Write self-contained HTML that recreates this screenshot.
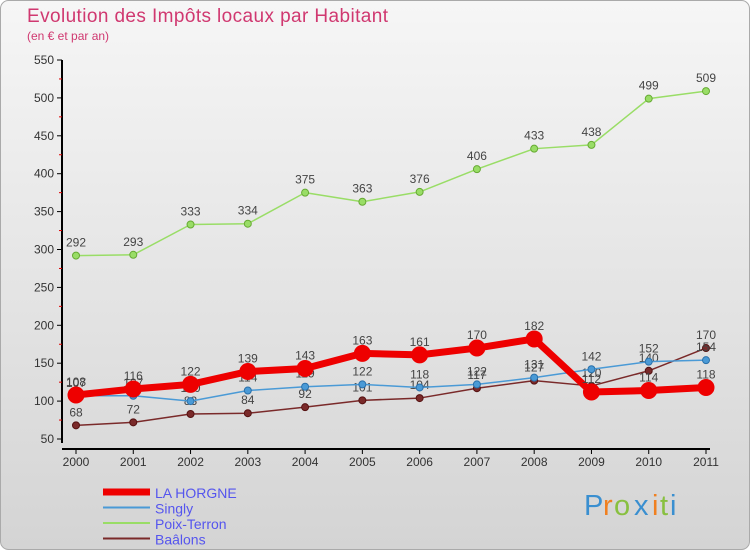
<!DOCTYPE html>
<html><head><meta charset="utf-8"><style>
body{margin:0;width:750px;height:550px;overflow:hidden;font-family:"Liberation Sans",sans-serif}
</style></head><body>
<svg id="c" width="750" height="550" xmlns="http://www.w3.org/2000/svg">
<defs><linearGradient id="bg" x1="0" y1="0" x2="0" y2="1"><stop offset="0" stop-color="#f6f6f6"/><stop offset="1" stop-color="#d4d4d4"/></linearGradient></defs>
<rect x="0.5" y="0.5" width="749" height="549" rx="8" fill="url(#bg)" stroke="#aaa"/>
<text x="27" y="22" font-size="19" textLength="361" fill="#d03870">Evolution des Impôts locaux par Habitant</text>
<text x="27" y="40" font-size="12" fill="#d03870">(en € et par an)</text>
<g id="axes"></g><g id="series"></g><g id="legend"></g>
<g font-size="29">
<text x="584" y="515" fill="#3a8fd0">P</text><text x="603" y="515" fill="#f08020">r</text><text x="614" y="515" fill="#88c040">o</text><text x="634" y="515" fill="#3a8fd0">x</text><text x="652" y="515" fill="#f08020">i</text><text x="660" y="515" fill="#88c040">t</text><text x="670" y="515" fill="#3a8fd0">i</text>
</g>
</svg>
<script>
const years=[2000,2001,2002,2003,2004,2005,2006,2007,2008,2009,2010,2011];
const yTicks=[50,100,150,200,250,300,350,400,450,500,550];
const horgne=[108,116,122,139,143,163,161,170,182,112,114,118];
const singly=[107,107,100,114,119,122,118,122,131,142,152,154];
const poix=[292,293,333,334,375,363,376,406,433,438,499,509];
const baalons=[68,72,83,84,92,101,104,117,127,120,140,170];
const NS="http://www.w3.org/2000/svg";
function X(i){return 76+i*(630/(years.length-1));}
function Y(v){return 439-(v-50)*379/500;}
function mk(t,a,p){const e=document.createElementNS(NS,t);for(const k in a)e.setAttribute(k,a[k]);p.appendChild(e);return e;}
const ax=document.getElementById('axes');
const yl=mk('line',{x1:62,y1:Y(550),x2:62,y2:443,stroke:'#000','stroke-width':2},ax);


const xl=mk('line',{x1:62,y1:449,x2:710,y2:449,stroke:'#000','stroke-width':2},ax);


yTicks.forEach(v=>{
 mk('line',{x1:57,y1:Y(v),x2:62,y2:Y(v),stroke:'#000'},ax);
 if(v<550) mk('line',{x1:59,y1:Y(v+25),x2:62,y2:Y(v+25),stroke:'#d00'},ax);
 const t=mk('text',{x:54,y:Y(v)+4,'text-anchor':'end','font-size':12,fill:'#333'},ax);t.textContent=v;
 
 
});
years.forEach((y,i)=>{
 mk('line',{x1:X(i),y1:449,x2:X(i),y2:454,stroke:'#000'},ax);
 const t=mk('text',{x:X(i),y:466,'text-anchor':'middle','font-size':12,fill:'#333'},ax);t.textContent=y;
 
 
});
const sg=document.getElementById('series');
function draw(name,data,color,w,r,stroke){
 const g=mk('g',{},sg);
 
 
 mk('polyline',{points:data.map((v,i)=>X(i)+','+Y(v)).join(' '),fill:'none',stroke:color,'stroke-width':w,'stroke-linejoin':'round'},g);
 data.forEach((v,i)=>{
  const c=mk('circle',{cx:X(i),cy:Y(v),r:r,fill:color,stroke:stroke,'stroke-width':1},g);
  
  
  const t=mk('text',{x:X(i),y:Y(v)-9,'text-anchor':'middle','font-size':12,fill:'#444'},g);t.textContent=v;
 });
}
draw('poix-terron',poix,'#99dd66',1.5,3.5,'#66aa33');
draw('baalons',baalons,'#7a2a2a',1.5,3.5,'#551111');
draw('singly',singly,'#4a9ad6',1.5,3.5,'#2a70aa');
draw('la-horgne',horgne,'#ee0000',7,8,'#ee0000');
const lg=document.getElementById('legend');
[['LA HORGNE','#ee0000',7],['Singly','#4a9ad6',2],['Poix-Terron','#99dd66',2],['Baâlons','#7a2a2a',2]].forEach((s,i)=>{
 const g=mk('g',{},lg);
 
 
 const y=492+i*15.5;
 mk('line',{x1:103,y1:y,x2:150,y2:y,stroke:s[1],'stroke-width':s[2]},g);
 const t=mk('text',{x:155,y:y+6,'font-size':14,fill:'#5555ee'},g);t.textContent=s[0];
});
</script>
</body></html>
